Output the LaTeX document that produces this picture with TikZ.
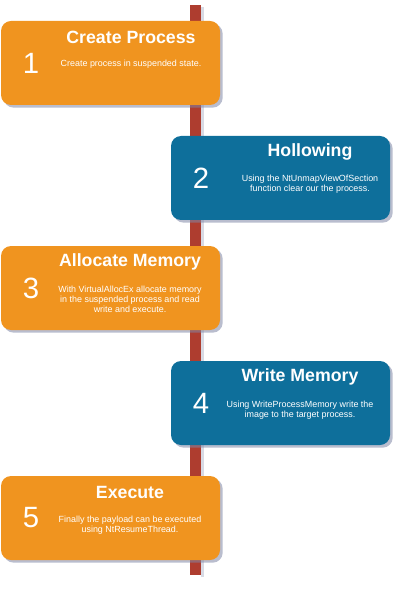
\documentclass[tikz,border=0pt]{standalone}
\usepackage{fontspec}
\setmainfont{Liberation Sans}
\usetikzlibrary{shadows}
\definecolor{steporange}{HTML}{F0941F}
\definecolor{stepblue}{HTML}{0E6F9B}
\definecolor{barred}{HTML}{AE3D2F}
\definecolor{shadowgray}{HTML}{7F86A6}
\tikzset{stepbox/.style = {rounded corners = 7.5pt, minimum width = 219*0.75pt,
                           minimum height = 84*0.75pt, inner sep = 0,
                           drop shadow = {shadow xshift = 2pt, shadow yshift = -2pt,
                                          fill = shadowgray, opacity = 0.55}}}
\tikzset{orangebox/.style = {stepbox, fill = steporange}}
\tikzset{bluebox/.style = {stepbox, fill = stepblue}}
\tikzset{num/.style = {text = white, font = \fontsize{22}{22}\selectfont}}
\tikzset{title/.style = {text = white, font = \bfseries\fontsize{13.3}{15}\selectfont}}
\tikzset{body/.style = {text = white, align = center, font = \fontsize{6.7}{7.5}\selectfont}}

\begin{document}
\begin{tikzpicture}[x = 0.75pt, y = -0.75pt]
      \useasboundingbox (0, 0) rectangle (405, 591);
      \fill [shadowgray, opacity = 0.3] (201, 7) rectangle (204, 577);
      \fill [barred] (190, 5) rectangle (201, 575);
      % step 1
      \node [orangebox] (create) at (110.5, 63) {};
      \node [num] (n1) at (31, 63) {1};
      \node [title] (t1) at (131, 37) {Create Process};
      \node [body] (b1) at (131, 64) {Create process in suspended state.};
      % step 2
      \node [bluebox] (hollow) at (280.5, 178) {};
      \node [num] (n2) at (201, 178) {2};
      \node [title] (t2) at (310, 152) {Hollowing};
      \node [body] (b2) at (310, 184.5) {Using the NtUnmapViewOfSection\\function clear our the process.};
      % step 3
      \node [orangebox] (alloc) at (110.5, 288) {};
      \node [num] (n3) at (31, 288) {3};
      \node [title] (t3) at (130, 262) {Allocate Memory};
      \node [body] (b3) at (130, 299.5) {With VirtualAllocEx allocate memory\\in the suspended process and read\\write and execute.};
      % step 4
      \node [bluebox] (write) at (280.5, 403) {};
      \node [num] (n4) at (201, 403) {4};
      \node [title] (t4) at (300, 377) {Write Memory};
      \node [body] (b4) at (300, 410.5) {Using WriteProcessMemory write the\\image to the target process.};
      % step 5
      \node [orangebox] (exec) at (110.5, 518) {};
      \node [num] (n5) at (31, 518) {5};
      \node [title] (t5) at (130, 492) {Execute};
      \node [body] (b5) at (130, 525.5) {Finally the payload can be executed\\using NtResumeThread.};
    \end{tikzpicture}
\end{document}
